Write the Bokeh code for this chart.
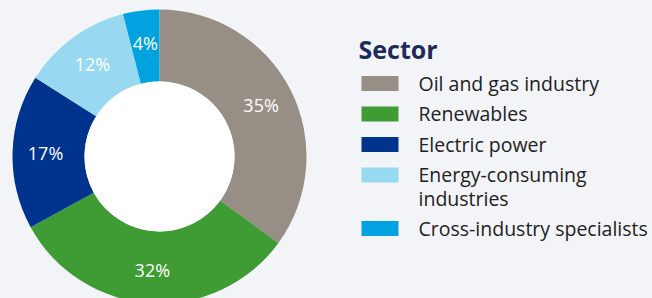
import math
from bokeh.plotting import figure
from bokeh.models import Range1d, ColumnDataSource
from bokeh.core.properties import value
from bokeh.embed import file_html
from bokeh.resources import INLINE

# ---- data ----
sectors = ["Oil and gas industry", "Renewables", "Electric power",
           "Energy-consuming\nindustries", "Cross-industry specialists"]
shares = [35, 32, 17, 12, 4]
labels = ["35%", "32%", "17%", "12%", "4%"]
colors = ["#978e86", "#3f9c35", "#00338d", "#98d8f1", "#00a3e0"]
legend_title = "Sector"

BG = "#f2f4f7"
W, H = 652, 298
FONT = "Open Sans"

p = figure(width=W, height=H, output_backend="svg", toolbar_location=None,
           x_range=Range1d(0, W), y_range=Range1d(0, H), min_border=0,
           background_fill_color=BG, border_fill_color=BG)
p.axis.visible = False
p.grid.visible = False
p.outline_line_color = None

# donut geometry (screen px -> data: x = sx, y = H - sy)
cx, cy = 159, H - 156
r_out, r_in = 147, 75

total = sum(shares)
starts, ends, mids = [], [], []
cum = 0
for s in shares:
    a0 = math.pi / 2 - 2 * math.pi * cum / total
    cum += s
    a1 = math.pi / 2 - 2 * math.pi * cum / total
    starts.append(a0)
    ends.append(a1)
    mids.append((a0 + a1) / 2)

src = ColumnDataSource(dict(start=starts, end=ends, color=colors))
p.annular_wedge(x=cx, y=cy, inner_radius=r_in, outer_radius=r_out,
                inner_radius_units="screen", outer_radius_units="screen",
                start_angle="start", end_angle="end", direction="clock",
                fill_color="color", line_color=None, source=src)
p.circle(x=cx, y=cy, radius=r_in, radius_units="screen", fill_color="white", line_color=None)

r_lab = 114
lx = [cx + r_lab * math.cos(m) for m in mids]
ly = [cy + r_lab * math.sin(m) for m in mids]
p.text(x=lx, y=ly, text=labels, text_align="center", text_baseline="middle",
       text_color="white", text_font=value(FONT), text_font_size="18px")

# legend
p.text(x=[358], y=[H - 48], text=[legend_title], text_baseline="middle",
       text_color="#1d2b5c", text_font=value(FONT), text_font_style="bold",
       text_font_size="25px")

row_y = []
sy = 83
for s in sectors:
    row_y.append(H - sy)
    sy += 30.5 + 23 * s.count("\n")

p.rect(x=[379.5] * len(sectors), y=row_y, width=37, height=15,
       width_units="screen", height_units="screen", fill_color=colors, line_color=None)
p.text(x=[418] * len(sectors), y=row_y, text=sectors, text_baseline="top",
       y_offset=-14, text_color="#222222", text_font=value(FONT),
       text_font_size="19.5px", text_line_height=0.9)

html = file_html(p, INLINE)
html = html.replace("</head>", "<style>body{background:%s;}</style></head>" % BG, 1)
open("out.html", "w").write(html)
